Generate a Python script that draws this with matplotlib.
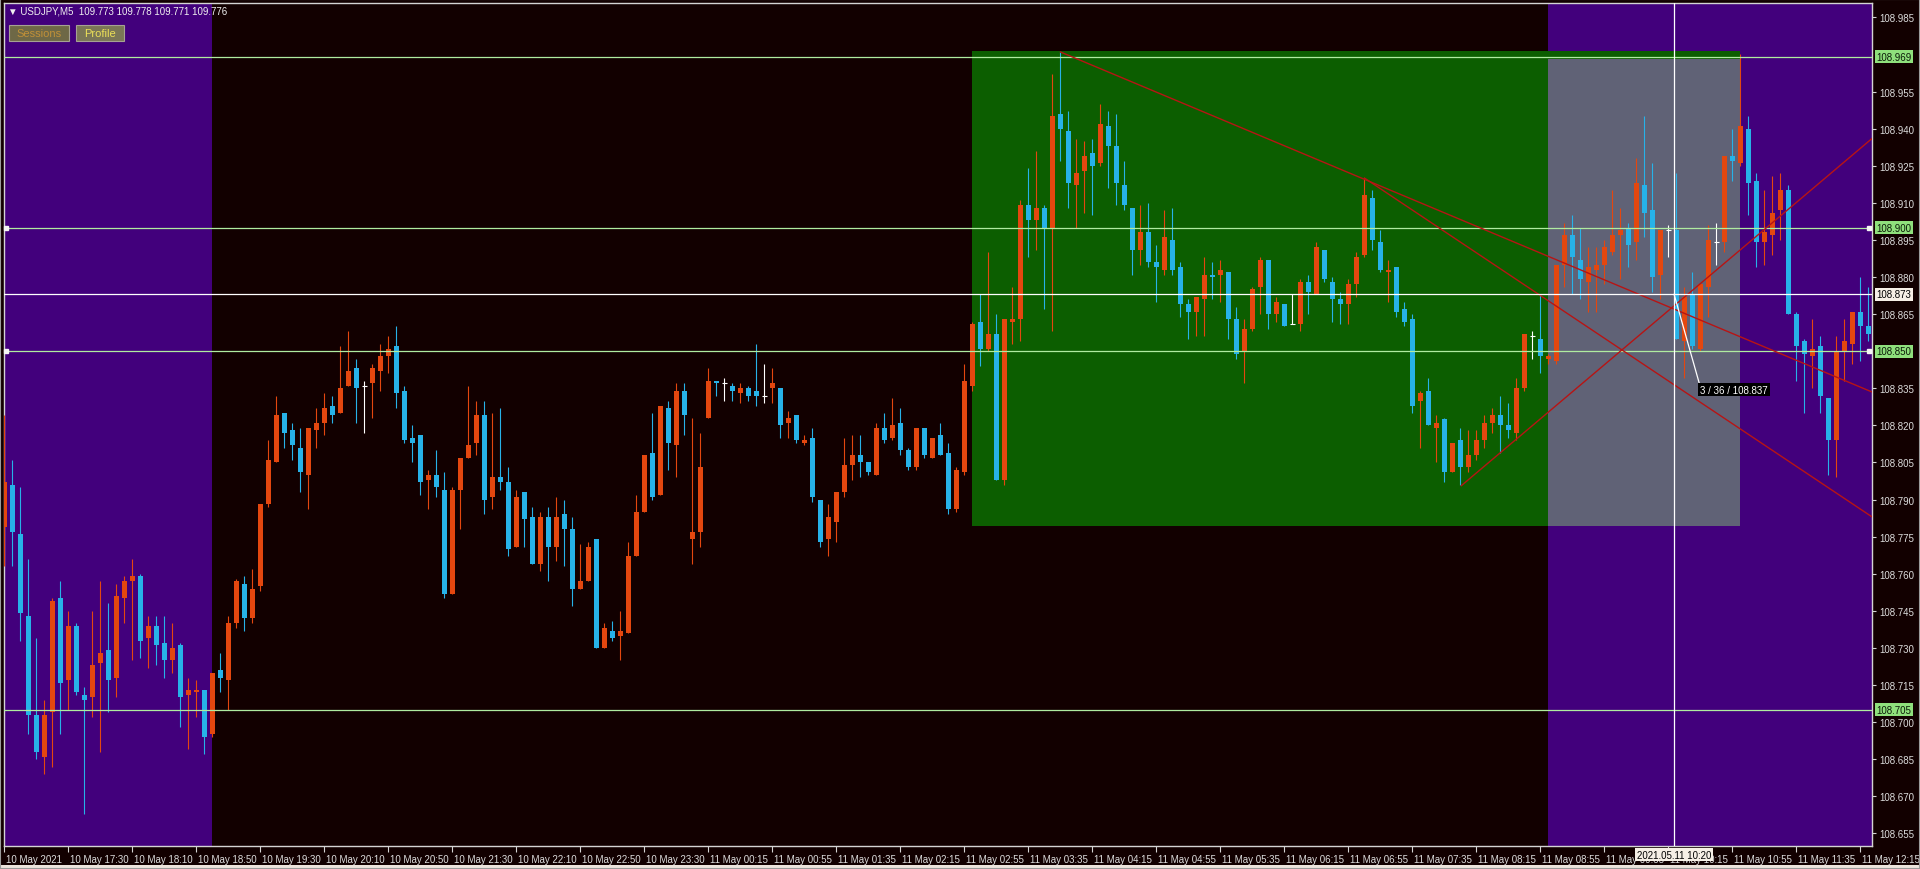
import numpy as np
import matplotlib.pyplot as plt
from matplotlib.patches import Rectangle
from matplotlib import transforms

plt.rcParams['font.family'] = ['Liberation Sans', 'DejaVu Sans']

# USDJPY M5 bars (bar index 0 = 10 May 16:50)
opens = [108.779, 108.796, 108.776, 108.743, 108.703, 108.686, 108.704, 108.750, 108.717, 108.739,
         108.711, 108.710, 108.724, 108.729, 108.718, 108.750, 108.757, 108.759, 108.734, 108.739,
         108.732, 108.725, 108.731, 108.711, 108.712, 108.713, 108.695, 108.721, 108.717, 108.740,
         108.756, 108.742, 108.755, 108.788, 108.805, 108.825, 108.818, 108.811, 108.800, 108.818,
         108.821, 108.828, 108.825, 108.836, 108.843, 108.836, 108.837, 108.842, 108.848, 108.852,
         108.834, 108.815, 108.816, 108.798, 108.800, 108.794, 108.752, 108.794, 108.807, 108.813,
         108.824, 108.791, 108.799, 108.797, 108.771, 108.793, 108.783, 108.764, 108.783, 108.771,
         108.784, 108.778, 108.754, 108.757, 108.774, 108.730, 108.737, 108.735, 108.736, 108.767,
         108.785, 108.809, 108.792, 108.827, 108.812, 108.834, 108.774, 108.777, 108.823, 108.838,
         108.837, 108.836, 108.833, 108.835, 108.834, 108.832, 108.835, 108.835, 108.821, 108.824,
         108.813, 108.815, 108.790, 108.774, 108.781, 108.793, 108.804, 108.808, 108.805, 108.800,
         108.819, 108.815, 108.821, 108.810, 108.803, 108.819, 108.807, 108.816, 108.809, 108.786,
         108.801, 108.836, 108.862, 108.851, 108.857, 108.798, 108.862, 108.863, 108.909, 108.903,
         108.908, 108.900, 108.946, 108.939, 108.917, 108.923, 108.930, 108.926, 108.941, 108.933,
         108.917, 108.908, 108.891, 108.898, 108.886, 108.883, 108.895, 108.884, 108.869, 108.866,
         108.871, 108.881, 108.881, 108.882, 108.863, 108.850, 108.859, 108.876, 108.887, 108.865,
         108.869, 108.861, 108.861, 108.878, 108.873, 108.891, 108.878, 108.871, 108.869, 108.877,
         108.889, 108.912, 108.894, 108.882, 108.884, 108.867, 108.863, 108.830, 108.834, 108.819,
         108.8225, 108.801, 108.814, 108.803, 108.808, 108.814, 108.821, 108.824, 108.820, 108.817,
         108.835, 108.856, 108.855, 108.847, 108.846, 108.885, 108.897, 108.887, 108.878, 108.883,
         108.885, 108.890, 108.897, 108.900, 108.894, 108.917, 108.907, 108.881, 108.899, 108.899,
         108.854, 108.873, 108.851, 108.876, 108.894, 108.894, 108.929, 108.926, 108.940, 108.919,
         108.894, 108.897, 108.907, 108.915, 108.865, 108.854, 108.848, 108.852, 108.831, 108.814,
         108.850, 108.853, 108.866, 108.860]
highs = [108.824, 108.806, 108.795, 108.766, 108.734, 108.709, 108.750, 108.757, 108.745, 108.740,
         108.714, 108.745, 108.757, 108.748, 108.756, 108.759, 108.766, 108.760, 108.743, 108.743,
         108.743, 108.740, 108.732, 108.718, 108.717, 108.713, 108.720, 108.728, 108.743, 108.758,
         108.759, 108.762, 108.788, 108.814, 108.832, 108.825, 108.821, 108.819, 108.819, 108.827,
         108.833, 108.832, 108.852, 108.858, 108.847, 108.838, 108.845, 108.853, 108.856, 108.860,
         108.836, 108.820, 108.816, 108.802, 108.810, 108.801, 108.795, 108.807, 108.836, 108.830,
         108.830, 108.825, 108.827, 108.803, 108.794, 108.793, 108.787, 108.785, 108.787, 108.791,
         108.790, 108.783, 108.772, 108.773, 108.774, 108.740, 108.741, 108.745, 108.773, 108.792,
         108.808, 108.825, 108.828, 108.830, 108.837, 108.837, 108.823, 108.817, 108.843, 108.838,
         108.839, 108.837, 108.837, 108.836, 108.853, 108.845, 108.843, 108.835, 108.826, 108.824,
         108.816, 108.819, 108.790, 108.788, 108.793, 108.815, 108.816, 108.816, 108.805, 108.821,
         108.825, 108.831, 108.827, 108.811, 108.819, 108.819, 108.815, 108.821, 108.813, 108.803,
         108.845, 108.862, 108.873, 108.890, 108.865, 108.863, 108.876, 108.911, 108.924, 108.931,
         108.909, 108.962, 108.971, 108.947, 108.936, 108.935, 108.936, 108.950, 108.947, 108.946,
         108.927, 108.908, 108.909, 108.910, 108.893, 108.907, 108.908, 108.886, 108.871, 108.872,
         108.888, 108.886, 108.887, 108.882, 108.868, 108.863, 108.876, 108.888, 108.887, 108.872,
         108.869, 108.873, 108.879, 108.881, 108.894, 108.891, 108.880, 108.874, 108.879, 108.890,
         108.920, 108.915, 108.899, 108.887, 108.884, 108.870, 108.865, 108.834, 108.839, 108.824,
         108.823, 108.813, 108.819, 108.818, 108.818, 108.824, 108.827, 108.832, 108.829, 108.839,
         108.857, 108.858, 108.873, 108.849, 108.885, 108.902, 108.905, 108.900, 108.892, 108.892,
         108.895, 108.915, 108.908, 108.902, 108.928, 108.945, 108.926, 108.899, 108.901, 108.922,
         108.876, 108.882, 108.877, 108.901, 108.902, 108.929, 108.940, 108.970, 108.945, 108.922,
         108.915, 108.921, 108.922, 108.917, 108.866, 108.855, 108.863, 108.856, 108.831, 108.856,
         108.863, 108.866, 108.880, 108.876]
lows = [108.763, 108.763, 108.733, 108.695, 108.685, 108.679, 108.682, 108.695, 108.705, 108.711,
        108.663, 108.702, 108.688, 108.704, 108.710, 108.740, 108.725, 108.726, 108.722, 108.723,
        108.718, 108.720, 108.698, 108.689, 108.702, 108.687, 108.694, 108.712, 108.705, 108.738,
        108.737, 108.740, 108.753, 108.787, 108.805, 108.811, 108.806, 108.793, 108.786, 108.811,
        108.816, 108.821, 108.825, 108.836, 108.821, 108.817, 108.823, 108.834, 108.841, 108.827,
        108.813, 108.805, 108.792, 108.786, 108.791, 108.750, 108.752, 108.778, 108.807, 108.808,
        108.784, 108.786, 108.794, 108.767, 108.771, 108.771, 108.764, 108.761, 108.757, 108.765,
        108.763, 108.747, 108.754, 108.757, 108.730, 108.730, 108.733, 108.725, 108.736, 108.767,
        108.785, 108.790, 108.792, 108.802, 108.799, 108.816, 108.764, 108.771, 108.823, 108.832,
        108.830, 108.830, 108.829, 108.830, 108.828, 108.829, 108.829, 108.815, 108.815, 108.813,
        108.812, 108.789, 108.771, 108.767, 108.773, 108.791, 108.798, 108.799, 108.800, 108.800,
        108.813, 108.814, 108.808, 108.802, 108.802, 108.807, 108.807, 108.808, 108.784, 108.785,
        108.800, 108.834, 108.844, 108.850, 108.798, 108.796, 108.853, 108.854, 108.888, 108.891,
        108.867, 108.858, 108.927, 108.908, 108.900, 108.906, 108.905, 108.925, 108.916, 108.909,
        108.907, 108.881, 108.885, 108.884, 108.870, 108.881, 108.881, 108.864, 108.855, 108.856,
        108.856, 108.871, 108.870, 108.855, 108.847, 108.837, 108.858, 108.865, 108.859, 108.862,
        108.860, 108.861, 108.858, 108.865, 108.873, 108.878, 108.862, 108.861, 108.861, 108.872,
        108.888, 108.891, 108.882, 108.870, 108.864, 108.860, 108.825, 108.811, 108.820, 108.805,
        108.797, 108.801, 108.796, 108.801, 108.806, 108.811, 108.817, 108.809, 108.815, 108.814,
        108.834, 108.847, 108.841, 108.845, 108.845, 108.876, 108.873, 108.871, 108.866, 108.866,
        108.877, 108.889, 108.879, 108.884, 108.887, 108.896, 108.874, 108.871, 108.888, 108.855,
        108.839, 108.851, 108.850, 108.864, 108.885, 108.890, 108.919, 108.925, 108.905, 108.884,
        108.885, 108.889, 108.895, 108.865, 108.838, 108.825, 108.835, 108.825, 108.800, 108.799,
        108.838, 108.845, 108.846, 108.854]
closes = [108.797, 108.777, 108.744, 108.703, 108.688, 108.703, 108.749, 108.716, 108.739, 108.712,
          108.709, 108.723, 108.728, 108.717, 108.751, 108.757, 108.759, 108.733, 108.739, 108.731,
          108.725, 108.730, 108.710, 108.713, 108.713, 108.694, 108.720, 108.718, 108.740, 108.757,
          108.742, 108.754, 108.788, 108.806, 108.824, 108.817, 108.812, 108.801, 108.819, 108.821,
          108.827, 108.824, 108.835, 108.842, 108.835, 108.836, 108.843, 108.848, 108.851, 108.833,
          108.814, 108.813, 108.797, 108.800, 108.795, 108.752, 108.794, 108.807, 108.812, 108.824,
          108.790, 108.799, 108.797, 108.770, 108.791, 108.782, 108.764, 108.783, 108.771, 108.783,
          108.778, 108.754, 108.757, 108.771, 108.730, 108.738, 108.734, 108.737, 108.767, 108.785,
          108.808, 108.791, 108.828, 108.813, 108.834, 108.824, 108.777, 108.803, 108.838, 108.837,
          108.837, 108.834, 108.835, 108.832, 108.832, 108.832, 108.837, 108.820, 108.823, 108.814,
          108.814, 108.791, 108.773, 108.783, 108.793, 108.804, 108.808, 108.805, 108.801, 108.819,
          108.814, 108.820, 108.810, 108.803, 108.819, 108.808, 108.815, 108.808, 108.786, 108.802,
          108.838, 108.861, 108.851, 108.857, 108.798, 108.863, 108.863, 108.909, 108.903, 108.908,
          108.900, 108.945, 108.940, 108.918, 108.922, 108.929, 108.925, 108.942, 108.933, 108.918,
          108.909, 108.891, 108.898, 108.886, 108.884, 108.896, 108.883, 108.869, 108.866, 108.872,
          108.881, 108.880, 108.883, 108.863, 108.849, 108.859, 108.875, 108.887, 108.865, 108.870,
          108.860, 108.861, 108.878, 108.874, 108.892, 108.879, 108.871, 108.869, 108.877, 108.888,
          108.913, 108.895, 108.883, 108.883, 108.866, 108.862, 108.828, 108.833, 108.820, 108.821,
          108.801, 108.813, 108.803, 108.808, 108.814, 108.821, 108.824, 108.820, 108.818, 108.835,
          108.857, 108.856, 108.848, 108.848, 108.885, 108.897, 108.888, 108.879, 108.884, 108.885,
          108.892, 108.897, 108.899, 108.893, 108.918, 108.906, 108.880, 108.899, 108.899, 108.855,
          108.872, 108.852, 108.877, 108.895, 108.894, 108.929, 108.927, 108.941, 108.918, 108.894,
          108.898, 108.906, 108.915, 108.865, 108.852, 108.849, 108.851, 108.832, 108.814, 108.850,
          108.854, 108.866, 108.860, 108.857]

tick_bars = list(range(0, 233, 8))
tick_labels = ['10 May 2021', '10 May 17:30', '10 May 18:10', '10 May 18:50', '10 May 19:30',
               '10 May 20:10', '10 May 20:50', '10 May 21:30', '10 May 22:10', '10 May 22:50',
               '10 May 23:30', '11 May 00:15', '11 May 00:55', '11 May 01:35', '11 May 02:15',
               '11 May 02:55', '11 May 03:35', '11 May 04:15', '11 May 04:55', '11 May 05:35',
               '11 May 06:15', '11 May 06:55', '11 May 07:35', '11 May 08:15', '11 May 08:55',
               '11 May 09:35', '11 May 10:15', '11 May 10:55', '11 May 11:35', '11 May 12:15']
price_ticks = [108.985, 108.955, 108.940, 108.925, 108.910, 108.895, 108.880, 108.865,
               108.835, 108.820, 108.805, 108.790, 108.775, 108.760, 108.745, 108.730,
               108.715, 108.700, 108.685, 108.670, 108.655]

levels = [108.969, 108.900, 108.850, 108.705]
selected_levels = [108.900, 108.850]
cursor_bar, cursor_price = 208.7, 108.873
cursor_time = '2021.05.11 10:20'
ruler_end = (211.85, 108.837)
ruler_text = '3 / 36 / 108.837'

purple_spans = [(-1, 26), (193, 240)]
green_box = (121, 217, 108.7795, 108.9712)
gray_box = (193, 217, 108.7795, 108.9681)
trend_lines = [((132, 108.971), (233.44, 108.8335)),
               ((170, 108.920), (233.44, 108.783)),
               ((182.1, 108.7956), (233.44, 108.936))]

BG = '#120000'
UP = '#e4470f'
DOWN = '#27b2e8'
LEVEL = '#b0eca0'
TXT = '#dcdcdc'

fig = plt.figure(figsize=(19.2, 8.7), dpi=100, facecolor=BG)
ax = fig.add_axes([4 / 1920, 23 / 870, 1868 / 1920, 843 / 870])
ax.set_facecolor(BG)
ax.set_xlim(-0.0625, 233.44)
ax.set_ylim(108.6499, 108.9908)

# session backgrounds
for x0, x1 in purple_spans:
    ax.axvspan(x0, x1, color='#42007c', lw=0, zorder=0)
b = green_box
ax.add_patch(Rectangle((b[0], b[2]), b[1] - b[0], b[3] - b[2], fc='#0c5e00', ec='none', zorder=0.5))
b = gray_box
ax.add_patch(Rectangle((b[0], b[2]), b[1] - b[0], b[3] - b[2], fc='#606276', ec='none', zorder=0.6))

# candles
o = np.array(opens); h = np.array(highs); l = np.array(lows); c = np.array(closes)
x = np.arange(len(o))
cols = np.where(c > o, UP, np.where(c < o, DOWN, '#ffffff'))
ax.vlines(x, l, h, colors=cols, lw=0.8, zorder=3)
body = c != o
ax.bar(x[body], np.maximum(np.abs(c - o)[body], 0.0005), bottom=np.minimum(o, c)[body],
       width=0.62, color=cols[body], lw=0, zorder=3)
ax.hlines(c[~body], x[~body] - 0.3, x[~body] + 0.3, colors='#ffffff', lw=0.8, zorder=3)

# horizontal levels
for lv in levels:
    ax.axhline(lv, color=LEVEL, lw=0.9, zorder=4)
for lv in selected_levels:
    ax.plot([0.15, 233.1], [lv, lv], 's', ms=3.5, mfc='#f4f4f4', mec='#f4f4f4', zorder=5, clip_on=False)

# trend lines
for (xa, ya), (xb, yb) in trend_lines:
    ax.plot([xa, xb], [ya, yb], color='#b81414', lw=1.0, zorder=4)

# crosshair and ruler
ax.axvline(cursor_bar, color='#ffffff', lw=0.9, zorder=5)
ax.axhline(cursor_price, color='#ffffff', lw=0.9, zorder=5)
ax.plot([cursor_bar, ruler_end[0]], [cursor_price, ruler_end[1]], color='#ffffff', lw=0.9, zorder=5)
ax.text(ruler_end[0] + 0.1, ruler_end[1] - 0.0025, ruler_text, fontsize=7, color='#ffffff',
        ha='left', va='center', zorder=6,
        bbox=dict(boxstyle='square,pad=0.2', fc='#000000', ec='none'))

# axes styling
for s in ax.spines.values():
    s.set_color('#d4d4d4')
    s.set_linewidth(1)
ax.yaxis.tick_right()
ax.set_yticks(price_ticks)
ax.set_yticklabels([f'{v:.3f}' for v in price_ticks])
ax.tick_params(axis='y', colors='#d4d4d4', labelcolor=TXT, labelsize=7, length=3, pad=2)
ax.set_xticks(tick_bars)
ax.set_xticklabels(tick_labels)
ax.tick_params(axis='x', colors='#d4d4d4', labelcolor=TXT, labelsize=7, length=4, pad=1.5)
shift = transforms.ScaledTranslation(2 / 100, 0, fig.dpi_scale_trans)
for lbl in ax.get_xticklabels():
    lbl.set_ha('left')
    lbl.set_transform(lbl.get_transform() + shift)

# price labels on the right axis
ytr = transforms.blended_transform_factory(ax.transAxes, ax.transData)
for lv in levels:
    ax.text(1.0025, lv, f'{lv:.3f}', transform=ytr, fontsize=7, color='#0b1a08', ha='left', va='center',
            zorder=6, clip_on=False, bbox=dict(boxstyle='square,pad=0.15', fc='#8fe07c', ec='none'))
ax.text(1.0025, cursor_price, f'{cursor_price:.3f}', transform=ytr, fontsize=7, color='#000000',
        ha='left', va='center', zorder=6, clip_on=False,
        bbox=dict(boxstyle='square,pad=0.15', fc='#f6efe6', ec='none'))
xtr = transforms.blended_transform_factory(ax.transData, ax.transAxes)
ax.text(cursor_bar, -0.0105, cursor_time, transform=xtr, fontsize=7, color='#000000',
        ha='center', va='center', zorder=6, clip_on=False,
        bbox=dict(boxstyle='square,pad=0.15', fc='#f6efe6', ec='none'))

# header and buttons
fig.text(8 / 1920, 1 - 11 / 870, '\u25bc USDJPY,M5  109.773 109.778 109.771 109.776',
         fontsize=7, color='#f0f0f0', ha='left', va='center')
for (bx, bw, label, fc, tc) in [(9, 60, 'Sessions', '#6e6846', '#c09038'),
                                (76, 48, 'Profile', '#7a7656', '#ece058')]:
    fig.patches.append(Rectangle((bx / 1920, 1 - 42 / 870), bw / 1920, 16 / 870,
                                 transform=fig.transFigure, fc=fc, ec='#a6a292', lw=0.8))
    fig.text((bx + bw / 2) / 1920, 1 - 34 / 870, label, fontsize=8, color=tc,
             ha='center', va='center')

# window frame
fig.patches.append(Rectangle((0, 0), 1, 4 / 870, transform=fig.transFigure, fc='#ece4dc', ec='none'))
fig.patches.append(Rectangle((0, 0), 1, 1, transform=fig.transFigure, fc='none', ec='#9a9a9a', lw=1.5))

fig.savefig('out.png', dpi=100, facecolor=BG)
